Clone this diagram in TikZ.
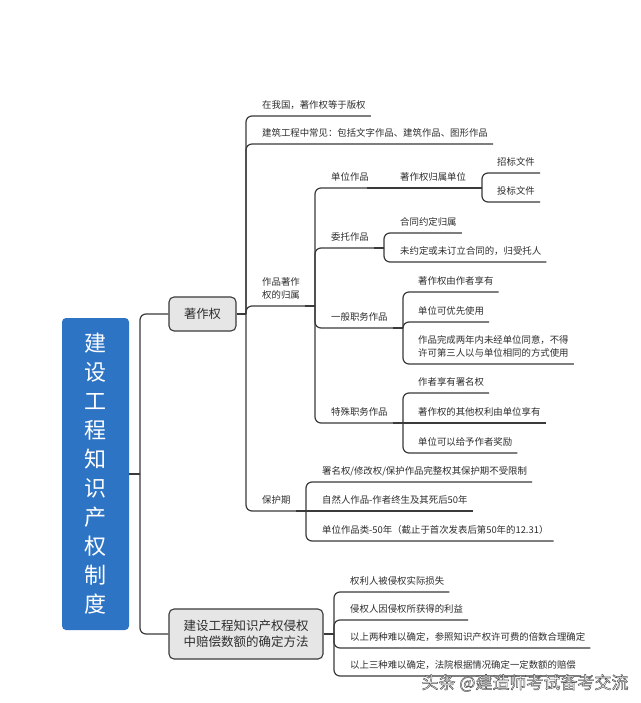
\documentclass[tikz,border=0pt]{standalone}
\usepackage{fontspec}
\setmainfont{Noto Sans CJK SC}
\usetikzlibrary{calc}
\definecolor{linec}{HTML}{3A3A3A}
\definecolor{mainblue}{HTML}{2E74C4}
\definecolor{boxgray}{HTML}{E6E6E6}
\definecolor{txt}{HTML}{2E2E2E}
\tikzset{
  conn/.style={draw=linec, line width=1.2pt, rounded corners=6pt},
  stub/.style={draw=linec, line width=2.8pt},
  leaf/.style={anchor=south west, inner sep=0pt, text depth=2.5pt, yshift=5pt,
    font=\fontsize{9.4}{13}\selectfont, text=txt, align=left},
  mainbox/.style={fill=mainblue, rounded corners=4pt, minimum width=67pt,
    minimum height=312pt, text=white, font=\fontsize{22}{29}\selectfont,
    align=center, inner sep=0pt},
  topic/.style={draw=linec, fill=boxgray, rounded corners=5pt, line width=1.1pt,
    text=txt, align=center, inner sep=0pt},
  wm/.style={font=\fontsize{17}{20}\selectfont, text=white, inner sep=0pt}
}
\newcommand{\ul}[1]{([xshift=5pt,yshift=-5pt]#1.south east)}
\begin{document}
\begin{tikzpicture}[x=1pt,y=-1pt]
\fill[white] (0,0) rectangle (640,703);
\useasboundingbox (0,0) rectangle (640,703);

% root
\node[mainbox] (root) at (95.5,474) {建\\设\\工\\程\\知\\识\\产\\权\\制\\度};
\node[topic, minimum width=67pt, minimum height=34pt, font=\fontsize{12.3}{16}\selectfont] (zzq) at (202.5,314) {著作权};
\node[topic, minimum width=154pt, minimum height=50pt, font=\fontsize{12.5}{16}\selectfont] (pc) at (246,634) {建设工程知识产权侵权\\中赔偿数额的确定方法};

\coordinate (J0) at (140,474);
\draw[conn] (root.east) -- (J0);
\draw[conn] (J0) |- (zzq.west);
\draw[conn] (J0) |- (pc.west);

% 著作权 branch
\coordinate (J1) at (246,314);
\draw[conn] (zzq.east) -- (J1);
\node[leaf] (a1) at (262,116) {在我国，著作权等于版权};
\node[leaf] (a2) at (262,144) {建筑工程中常见：包括文字作品、建筑作品、图形作品};
\node[leaf] (a3) at (262,306) {作品著作\\权的归属};
\node[leaf] (a4) at (262,511) {保护期};
\coordinate (J2) at (315,306);
\coordinate (J3) at (306,511);
\draw[conn] (J1) |- \ul{a1};
\draw[conn] (J1) |- \ul{a2};
\draw[conn] (J1) |- (J2);
\draw[conn] (J1) |- (J3);
\draw[stub] ([xshift=-10pt]J2) -- (J2);
\draw[stub] ([xshift=-10pt]J3) -- (J3);

% 作品著作权的归属
\node[leaf] (b1) at (331,188) {单位作品};
\node[leaf] (b2) at (331,248) {委托作品};
\node[leaf] (b3) at (331,328) {一般职务作品};
\node[leaf] (b4) at (331,423) {特殊职务作品};
\coordinate (J21) at (377,188);
\coordinate (J22) at (384,248);
\coordinate (J23) at (403,328);
\coordinate (J24) at (403,423);
\draw[conn] (J2) |- (J21);
\draw[conn] (J2) |- (J22);
\draw[conn] (J2) |- (J23);
\draw[conn] (J2) |- (J24);
\draw[stub] ([xshift=-10pt]J21) -- (J21);
\draw[stub] ([xshift=-10pt]J22) -- (J22);
\draw[stub] ([xshift=-10pt]J23) -- (J23);
\draw[stub] ([xshift=-10pt]J24) -- (J24);

% 单位作品
\node[leaf] (b11) at (400,188) {著作权归属单位};
\coordinate (J211) at (482,188);
\draw[conn] (J21) -- (J211);
\draw[stub] ([xshift=-10pt]J211) -- (J211);
\node[leaf] (c1) at (497,173) {招标文件};
\node[leaf] (c2) at (497,202) {投标文件};
\draw[conn] (J211) |- \ul{c1};
\draw[conn] (J211) |- \ul{c2};

% 委托作品
\node[leaf] (b21) at (400,233) {合同约定归属};
\node[leaf] (b22) at (400,262) {未约定或未订立合同的，归受托人};
\draw[conn] (J22) |- \ul{b21};
\draw[conn] (J22) |- \ul{b22};

% 一般职务作品
\node[leaf] (b31) at (418,292) {著作权由作者享有};
\node[leaf] (b32) at (418,322) {单位可优先使用};
\node[leaf] (b33) at (418,364) {作品完成两年内未经单位同意，不得\\许可第三人以与单位相同的方式使用};
\draw[conn] (J23) |- \ul{b31};
\draw[conn] (J23) |- \ul{b32};
\draw[conn] (J23) |- \ul{b33};

% 特殊职务作品
\node[leaf] (b41) at (418,393) {作者享有署名权};
\node[leaf] (b42) at (418,423) {著作权的其他权利由单位享有};
\node[leaf] (b43) at (418,453) {单位可以给予作者奖励};
\draw[conn] (J24) |- \ul{b41};
\draw[conn] (J24) -- \ul{b42};
\draw[conn] (J24) |- \ul{b43};

% 保护期
\node[leaf] (d1) at (322,482) {署名权/修改权/保护作品完整权其保护期不受限制};
\node[leaf] (d2) at (322,511) {自然人作品-作者终生及其死后50年};
\node[leaf] (d3) at (322,541) {单位作品类-50年（截止于首次发表后第50年的12.31）};
\draw[conn] (J3) |- \ul{d1};
\draw[conn] (J3) -- \ul{d2};
\draw[conn] (J3) |- \ul{d3};

% 赔偿数额
\coordinate (J4) at (334,634);
\draw[conn] (pc.east) -- (J4);
\draw[stub] ([xshift=-10pt]J4) -- (J4);
\node[leaf] (e1) at (350,592) {权利人被侵权实际损失};
\node[leaf] (e2) at (350,620) {侵权人因侵权所获得的利益};
\node[leaf] (e3) at (350,648) {以上两种难以确定，参照知识产权许可费的倍数合理确定};
\node[leaf] (e4) at (350,676) {以上三种难以确定，法院根据情况确定一定数额的赔偿};
\draw[conn] (J4) |- \ul{e1};
\draw[conn] (J4) |- \ul{e2};
\draw[conn] (J4) |- \ul{e3};
\draw[conn] (J4) |- \ul{e4};

% watermark
\node[wm] (wm) at (525,683) {\special{pdf:code 2 Tr 0.45 w 0.3 0.3 0.3 RG}头条 @建造师考试备考交流\special{pdf:code 0 Tr}};
\end{tikzpicture}
\end{document}
